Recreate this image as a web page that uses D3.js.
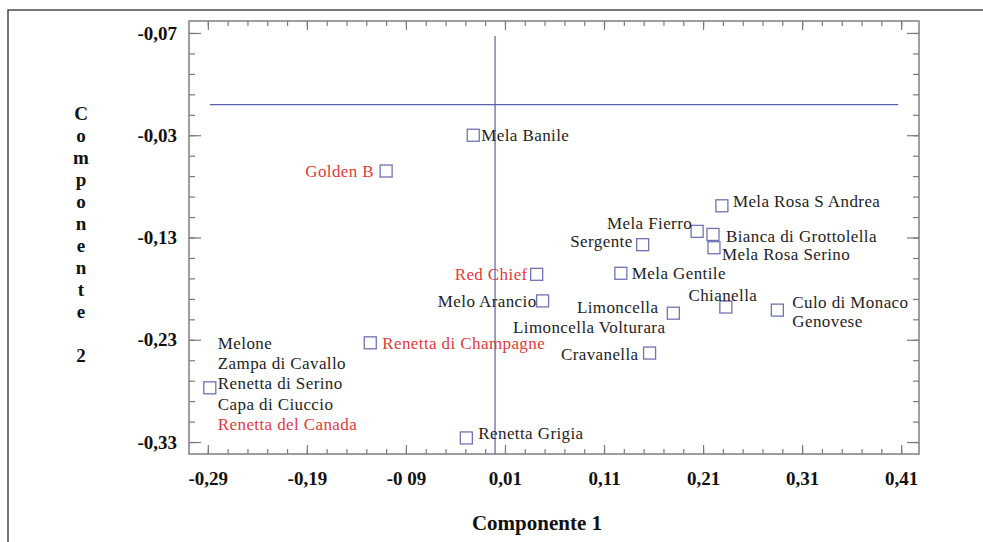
<!DOCTYPE html>
<html>
<head>
<meta charset="utf-8">
<script src="https://cdn.jsdelivr.net/npm/d3@7/dist/d3.min.js"></script>
<style>
  html, body { margin: 0; padding: 0; background: #fff; }
  svg { display: block; }
</style>
</head>
<body>
<svg id="chart" width="983" height="542"></svg>
<script>
// Apple cultivars projected on the first two principal components
const pointNames = [
  "Mela Banile", "Golden B", "Mela Rosa S Andrea", "Mela Fierro",
  "Bianca di Grottolella", "Mela Rosa Serino", "Sergente", "Red Chief",
  "Mela Gentile", "Melo Arancio", "Limoncella", "Chianella",
  "Culo di Monaco", "Renetta di Champagne", "Cravanella", "Renetta Grigia",
  "Melone"
];
const component1 = [
  -0.022, -0.110, 0.229, 0.204,
  0.220, 0.221, 0.149, 0.042,
  0.127, 0.048, 0.180, 0.233,
  0.285, -0.126, 0.156, -0.029,
  -0.288
];
const component2 = [
  -0.030, -0.065, -0.099, -0.124,
  -0.127, -0.140, -0.137, -0.166,
  -0.165, -0.192, -0.204, -0.198,
  -0.201, -0.233, -0.243, -0.326,
  -0.277
];
// Cultivars sharing the same coordinates are listed on one point
const pointLabels = [
  ["Mela Banile"], ["Golden B"], ["Mela Rosa S Andrea"], ["Mela Fierro"],
  ["Bianca di Grottolella"], ["Mela Rosa Serino"], ["Sergente"], ["Red Chief"],
  ["Mela Gentile"], ["Melo Arancio"], ["Limoncella", "Limoncella Volturara"], ["Chianella"],
  ["Culo di Monaco", "Genovese"], ["Renetta di Champagne"], ["Cravanella"], ["Renetta Grigia"],
  ["Melone", "Zampa di Cavallo", "Renetta di Serino", "Capa di Ciuccio", "Renetta del Canada"]
];
// Commercial reference varieties, written in red
const referenceCultivars = ["Golden B", "Red Chief", "Renetta di Champagne", "Renetta del Canada"];

const xTickValues = [-0.29, -0.19, -0.09, 0.01, 0.11, 0.21, 0.31, 0.41];
const xTickLabels = ["-0,29", "-0,19", "-0 09", "0,01", "0,11", "0,21", "0,31", "0,41"];
const yTickValues = [0.07, -0.03, -0.13, -0.23, -0.33];
const yTickLabels = ["-0,07", "-0,03", "-0,13", "-0,23", "-0,33"];
const xTitle = "Componente 1";
const yTitle = "Componente 2";

// Label placement around each marker: text anchor and offset in px
const labelLayout = {
  "Mela Banile": ["start", 8, 0],
  "Golden B": ["end", -12, 0],
  "Mela Rosa S Andrea": ["start", 11, -5],
  "Mela Fierro": ["end", -5, -8],
  "Bianca di Grottolella": ["start", 13, 2],
  "Mela Rosa Serino": ["start", 8, 6],
  "Sergente": ["end", -10, -4],
  "Red Chief": ["end", -9, 0],
  "Mela Gentile": ["start", 11, 0],
  "Melo Arancio": ["end", -6, 0],
  "Limoncella": ["end", -15, -6],
  "Limoncella Volturara": ["end", -8, 14],
  "Chianella": ["middle", -3, -12],
  "Culo di Monaco": ["start", 15, -8],
  "Genovese": ["start", 15, 11],
  "Renetta di Champagne": ["start", 12, 0],
  "Cravanella": ["end", -11, 1],
  "Renetta Grigia": ["start", 12, -5],
  "Melone": ["start", 8, -45],
  "Zampa di Cavallo": ["start", 8, -25],
  "Renetta di Serino": ["start", 8, -5],
  "Capa di Ciuccio": ["start", 8, 16],
  "Renetta del Canada": ["start", 8, 36]
};

const serif = "Liberation Serif, Times New Roman, serif";
const svg = d3.select("#chart");

const plot = { left: 189, right: 919, top: 21, bottom: 454 };
const x = d3.scaleLinear().domain([-0.309, 0.428]).range([plot.left, plot.right]);
const y = d3.scaleLinear().domain([-0.3417, 0.0817]).range([plot.bottom, plot.top]);

// Outer page frame
svg.append("path")
  .attr("d", "M8,542 L8,10 L983,10")
  .attr("fill", "none").attr("stroke", "#4a4a4a").attr("stroke-width", 1.5);

// Minor ticks every 0.02
const xMinor = d3.range(0, 36).map(i => +(-0.29 + i * 0.02).toFixed(2));
const yMinor = d3.range(0, 21).map(i => +(0.07 - i * 0.02).toFixed(2));
const tickColor = "#7a7a7a";

function styleAxis(g) {
  g.select(".domain").remove();
  g.selectAll(".tick line").attr("stroke", tickColor).attr("stroke-width", 1.2);
}

const axes = [
  { ax: d3.axisBottom(x), t: `translate(0,${plot.bottom})`, major: 9, minor: 5, vals: xTickValues, minorVals: xMinor, labels: xTickLabels, pad: 18 },
  { ax: d3.axisTop(x), t: `translate(0,${plot.top})`, major: 9, minor: 5, vals: xTickValues, minorVals: xMinor, labels: null, pad: 0 },
  { ax: d3.axisLeft(y), t: `translate(${plot.left},0)`, major: 12, minor: 6, vals: yTickValues, minorVals: yMinor, labels: yTickLabels, pad: 12 },
  { ax: d3.axisRight(y), t: `translate(${plot.right},0)`, major: 12, minor: 6, vals: yTickValues, minorVals: yMinor, labels: null, pad: 0 }
];

axes.forEach(a => {
  // minor ticks
  svg.append("g").attr("transform", a.t)
    .call(a.ax.tickValues(a.minorVals).tickSize(-a.minor).tickFormat(""))
    .call(styleAxis);
  // major ticks with labels
  const lbl = a.labels;
  svg.append("g").attr("transform", a.t)
    .call(a.ax.tickValues(a.vals).tickSize(-a.major)
      .tickPadding(a.pad)
      .tickFormat((d, i) => lbl ? lbl[i] : ""))
    .call(styleAxis)
    .call(g => g.selectAll("text")
      .attr("font-family", serif).attr("font-size", 19).attr("font-weight", "bold")
      .attr("fill", "#111"));
});

// Plot frame
svg.append("rect")
  .attr("x", plot.left).attr("y", plot.top)
  .attr("width", plot.right - plot.left).attr("height", plot.bottom - plot.top)
  .attr("fill", "none").attr("stroke", "#7f7f7f").attr("stroke-width", 1.5);

// Origin reference lines
const refColor = "#5b60a8";
svg.append("line")
  .attr("x1", x(-0.288)).attr("x2", x(0.407))
  .attr("y1", y(0)).attr("y2", y(0))
  .attr("stroke", refColor).attr("stroke-width", 1.2);
svg.append("line")
  .attr("x1", x(0)).attr("x2", x(0))
  .attr("y1", y(0.067)).attr("y2", y(-0.3417))
  .attr("stroke", refColor).attr("stroke-width", 1.2);

// Points
const points = pointNames.map((n, i) => ({ name: n, c1: component1[i], c2: component2[i], labels: pointLabels[i] }));
const markerSize = 12;

svg.append("g").selectAll("rect").data(points).join("rect")
  .attr("x", d => x(d.c1) - markerSize / 2)
  .attr("y", d => y(d.c2) - markerSize / 2)
  .attr("width", markerSize).attr("height", markerSize)
  .attr("fill", "none").attr("stroke", "#6f73b4").attr("stroke-width", 1.3);

const labelData = points.flatMap(p => p.labels.map(l => ({ text: l, px: x(p.c1), py: y(p.c2) })));
svg.append("g").selectAll("text").data(labelData).join("text")
  .attr("x", d => d.px + labelLayout[d.text][1])
  .attr("y", d => d.py + labelLayout[d.text][2])
  .attr("dy", "0.35em")
  .attr("text-anchor", d => labelLayout[d.text][0])
  .attr("font-family", serif).attr("font-size", 17)
  .attr("letter-spacing", 0.4)
  .attr("fill", d => referenceCultivars.includes(d.text) ? "#e23a3a" : "#1e1e1e")
  .text(d => d.text);

// Axis titles
svg.append("text")
  .attr("x", (plot.left + plot.right) / 2 - 17).attr("y", 523).attr("dy", "0.35em")
  .attr("text-anchor", "middle")
  .attr("font-family", serif).attr("font-size", 21).attr("font-weight", "bold").attr("fill", "#111")
  .text(xTitle);

svg.append("g").selectAll("text").data(yTitle.split("")).join("text")
  .attr("x", 81).attr("y", (d, i) => 113 + i * 22).attr("dy", "0.35em")
  .attr("text-anchor", "middle")
  .attr("font-family", serif).attr("font-size", 19).attr("font-weight", "bold").attr("fill", "#111")
  .text(d => d);
</script>
</body>
</html>
